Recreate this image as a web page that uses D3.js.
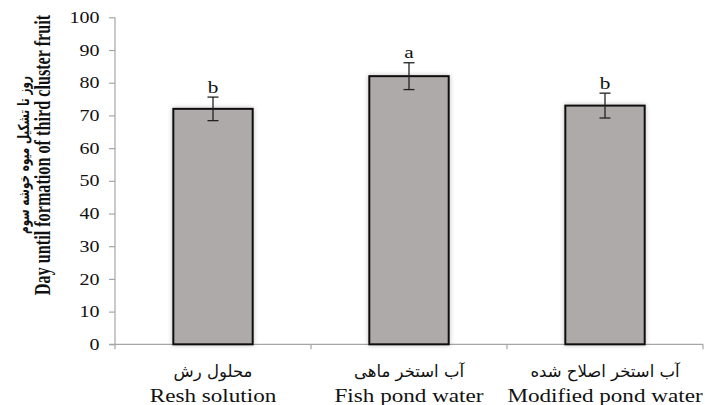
<!DOCTYPE html>
<html>
<head>
<meta charset="utf-8">
<script src="https://cdn.jsdelivr.net/npm/d3@7/dist/d3.min.js"></script>
<style>
  html, body { margin: 0; padding: 0; background: #fff; }
  svg { display: block; }
</style>
</head>
<body>
<script>
// ---- data ----
const categoriesEn = ["Resh solution", "Fish pond water", "Modified pond water"];
const categoriesFa = ["محلول رش", "آب استخر ماهی", "آب استخر اصلاح شده"];
const values = [72, 82, 73];
const errors = [3.6, 4.1, 3.8];
const letters = ["b", "a", "b"];
const yTicks = [0, 10, 20, 30, 40, 50, 60, 70, 80, 90, 100];
const yTitleEn = "Day until formation of third cluster fruit";
const yTitleFa = "روز تا تشکیل میوه خوشه سوم";

// ---- layout ----
const W = 705, H = 405;
const x0 = 115, x1 = 703, yTop = 17.3, yBot = 344.3;
const SX = 1.25; // horizontal stretch of the original image's text
const serif = "'Liberation Serif', 'Times New Roman', serif";
const arabic = "'DejaVu Sans', sans-serif";
const axisColor = "#a6a6a6";

const svg = d3.select("body").append("svg").attr("width", W).attr("height", H);

const defs = svg.append("defs");
const f = defs.append("filter").attr("id", "glow").attr("x", "-20%").attr("y", "-20%").attr("width", "140%").attr("height", "140%");
f.append("feGaussianBlur").attr("in", "SourceAlpha").attr("stdDeviation", 2.5).attr("result", "b");
f.append("feComponentTransfer").attr("in", "b").attr("result", "c")
  .append("feFuncA").attr("type", "linear").attr("slope", 0.25);
const m = f.append("feMerge");
m.append("feMergeNode").attr("in", "c");
m.append("feMergeNode").attr("in", "SourceGraphic");

const x = d3.scaleBand().domain(categoriesEn).range([x0, x1]).padding(0);
const y = d3.scaleLinear().domain([0, 100]).range([yBot, yTop]);
const barW = x.bandwidth() * 0.405;

// y axis
const yAxis = svg.append("g").attr("transform", `translate(${x0},0)`)
  .call(d3.axisLeft(y).tickValues(yTicks).tickSize(6).tickFormat(""));
yAxis.select(".domain").remove();
yAxis.selectAll(".tick line").attr("stroke", axisColor).attr("stroke-width", 1.2);
svg.append("line").attr("x1", x0).attr("x2", x0).attr("y1", yTop).attr("y2", yBot + 5)
  .attr("stroke", axisColor).attr("stroke-width", 1.2);

// y tick labels
svg.append("g").selectAll("text").data(yTicks).join("text")
  .attr("transform", d => `translate(99.5,${y(d) + 5.6}) scale(${SX},1)`)
  .attr("text-anchor", "end")
  .attr("font-family", serif).attr("font-size", 16).attr("fill", "#111")
  .text(d => d);

// x axis
svg.append("line").attr("x1", x0 - 6).attr("x2", x1).attr("y1", yBot).attr("y2", yBot)
  .attr("stroke", axisColor).attr("stroke-width", 1.2);
const xTickPos = categoriesEn.map(c => x(c) + x.bandwidth());
svg.append("g").selectAll("line").data(xTickPos).join("line")
  .attr("x1", d => d).attr("x2", d => d).attr("y1", yBot).attr("y2", yBot + 5)
  .attr("stroke", axisColor).attr("stroke-width", 1.2);

// bars
const cx = c => x(c) + x.bandwidth() / 2;
svg.append("g").selectAll("rect").data(values).join("rect")
  .attr("x", (d, i) => cx(categoriesEn[i]) - barW / 2)
  .attr("y", d => y(d))
  .attr("width", barW)
  .attr("height", d => y(0) - y(d))
  .attr("fill", "#aeaaa9")
  .attr("stroke", "#111").attr("stroke-width", 2)
  .attr("filter", "url(#glow)");

// error bars
const eb = svg.append("g").attr("stroke", "#222").attr("stroke-width", 1.3);
values.forEach((v, i) => {
  const c = cx(categoriesEn[i]);
  const t = y(v + errors[i]), b = y(v - errors[i]);
  eb.append("line").attr("x1", c).attr("x2", c).attr("y1", t).attr("y2", b);
  eb.append("line").attr("x1", c - 5.5).attr("x2", c + 5.5).attr("y1", t).attr("y2", t);
  eb.append("line").attr("x1", c - 5.5).attr("x2", c + 5.5).attr("y1", b).attr("y2", b);
});

// letters
svg.append("g").selectAll("text").data(letters).join("text")
  .attr("transform", (d, i) => `translate(${cx(categoriesEn[i])},${y(values[i] + errors[i]) - 4.5}) scale(${SX},1)`)
  .attr("text-anchor", "middle")
  .attr("font-family", serif).attr("font-size", 17).attr("fill", "#111")
  .text(d => d);

// x labels
svg.append("g").selectAll("text").data(categoriesFa).join("text")
  .attr("transform", (d, i) => `translate(${cx(categoriesEn[i])},377)`)
  .attr("text-anchor", "middle")
  .attr("font-family", arabic).attr("font-size", 16.5).attr("fill", "#111")
  .text(d => d);
svg.append("g").selectAll("text").data(categoriesEn).join("text")
  .attr("transform", (d, i) => `translate(${cx(d)},401.5) scale(${SX},1)`)
  .attr("text-anchor", "middle")
  .attr("font-family", serif).attr("font-size", 18.5).attr("fill", "#111")
  .text(d => d);

// y title
svg.append("text")
  .attr("transform", `translate(50,155) scale(1.38,1) rotate(-90)`)
  .attr("text-anchor", "middle")
  .attr("font-family", serif).attr("font-size", 16.2).attr("font-weight", "bold").attr("fill", "#111")
  .text(yTitleEn);
svg.append("text")
  .attr("transform", `translate(29,155) scale(1.45,1) rotate(-90)`)
  .attr("text-anchor", "middle")
  .attr("font-family", arabic).attr("font-size", 10.5).attr("font-weight", "bold").attr("fill", "#111")
  .text(yTitleFa);
</script>
</body>
</html>
